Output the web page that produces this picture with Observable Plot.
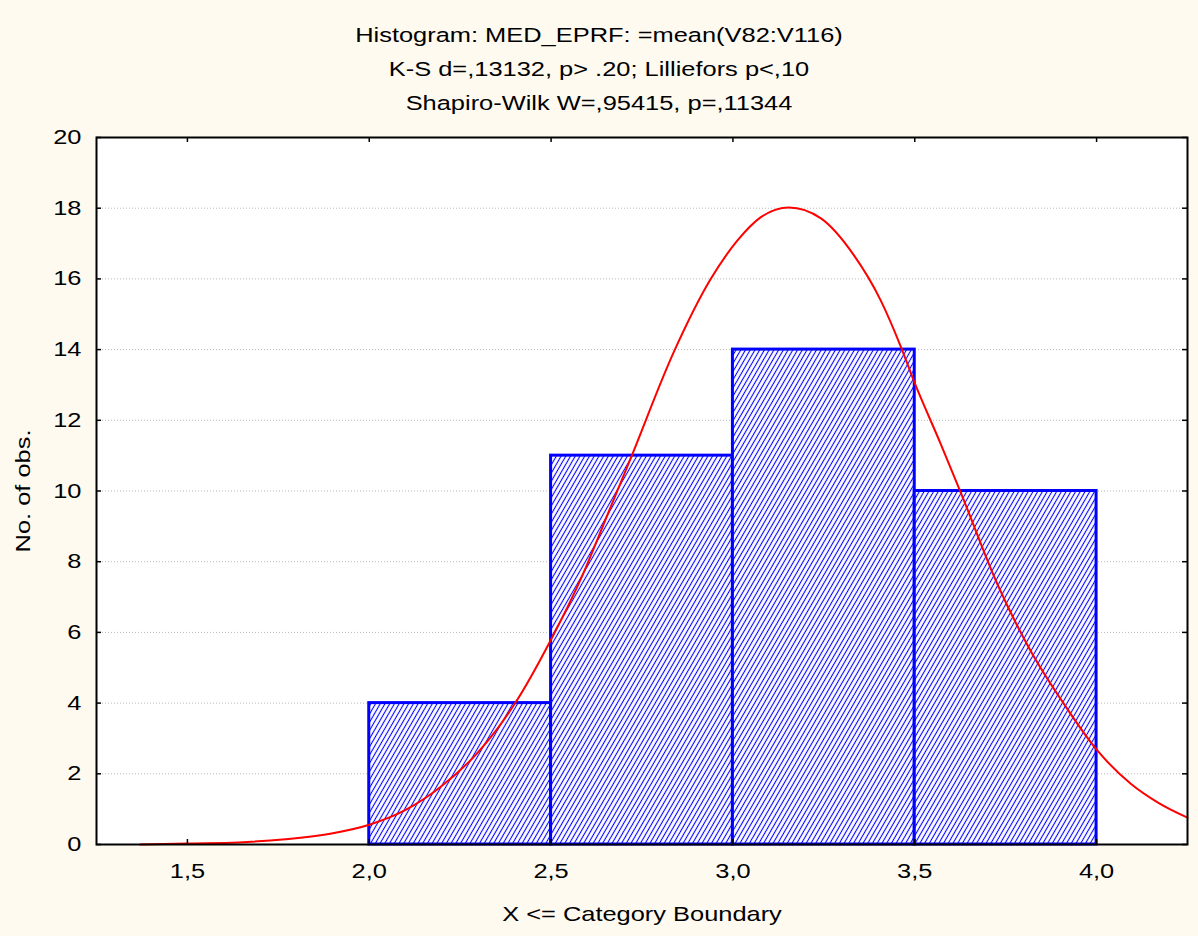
<!DOCTYPE html>
<html>
<head>
<meta charset="utf-8">
<script src="https://cdn.jsdelivr.net/npm/d3@7"></script>
<script src="https://cdn.jsdelivr.net/npm/@observablehq/plot@0.6"></script>
<style>
  html, body { margin: 0; padding: 0; background: #FFFAF0; overflow: hidden; }
  #titles { height: 120px; box-sizing: border-box; padding-top: 18px; font-family: "Liberation Sans", Arial, sans-serif; font-size: 20.5px; color: #000; }
  #titles div { text-align: center; line-height: 34px; transform: scaleX(1.24); }
  #chart svg { display: block; }
</style>
</head>
<body>
<div id="titles"></div>
<div id="chart"></div>
<script>
// ---- data ----
const titleLines = [
  "Histogram: MED_EPRF: =mean(V82:V116)",
  "K-S d=,13132, p> .20; Lilliefors p<,10",
  "Shapiro-Wilk W=,95415, p=,11344"
];
const xLabel = "X <= Category Boundary";
const yLabel = "No. of obs.";

const binStart = [2.0, 2.5, 3.0, 3.5];
const binEnd   = [2.5, 3.0, 3.5, 4.0];
const counts   = [4, 11, 14, 10];

// expected normal curve
const curveX = [1.37, 1.50, 1.64, 1.77, 1.90, 2.00, 2.10, 2.195, 2.30, 2.40, 2.50, 2.58, 2.654, 2.718, 2.837, 2.938, 3.012, 3.076, 3.154, 3.241, 3.332, 3.406, 3.461, 3.497, 3.571, 3.626, 3.727, 3.818, 3.910, 4.002, 4.094, 4.17, 4.25];
const curveY = [0.00, 0.03, 0.06, 0.15, 0.32, 0.56, 0.98, 1.62, 2.62, 3.98, 5.80, 7.47, 9.30, 10.90, 13.92, 15.98, 17.08, 17.74, 18.02, 17.72, 16.68, 15.40, 14.10, 13.13, 11.34, 9.97, 7.37, 5.49, 3.98, 2.66, 1.72, 1.18, 0.76];

const xTicks = [1.5, 2.0, 2.5, 3.0, 3.5, 4.0];
const yTicks = [0, 2, 4, 6, 8, 10, 12, 14, 16, 18, 20];
const xDomain = [1.25, 4.25];
const yDomain = [0, 20];

// ---- build ----
const bins = binStart.map((s, i) => ({x1: s, x2: binEnd[i], count: counts[i]}));
const curve = curveX.map((x, i) => ({x, y: curveY[i]}));
const fmt = d => d.toFixed(1).replace(".", ",");

const titles = document.getElementById("titles");
titleLines.forEach(t => { const d = document.createElement("div"); d.textContent = t; titles.appendChild(d); });

const W = 1198, H = 816, mT = 17, mB = 92, mL = 96, mR = 11;
const innerW = W - mL - mR, innerH = H - mT - mB;
const tickLen = 5;

const chart = Plot.plot({
  width: W, height: H,
  marginTop: mT, marginBottom: mB, marginLeft: mL, marginRight: mR,
  style: {background: "transparent", fontFamily: "Liberation Sans, Arial, sans-serif", fontSize: "20.5px", color: "#000"},
  x: {domain: xDomain},
  y: {domain: yDomain},
  marks: [
    Plot.frame({fill: "white"}),
    Plot.gridY(yTicks, {stroke: "#b8b8b8", strokeOpacity: 1, strokeDasharray: "1,2"}),
    Plot.rectY(bins, {x1: "x1", x2: "x2", y: "count", fill: "url(#hatch)", stroke: "#0000ff", strokeWidth: 3}),
    Plot.line(curve, {x: "x", y: "y", stroke: "#ff0000", strokeWidth: 2, curve: "monotone-x"}),
    Plot.frame({stroke: "#000", strokeWidth: 2}),
    Plot.tickX(xTicks, {x: d => d, stroke: "#000", strokeWidth: 1.5, insetTop: innerH - tickLen}),
    Plot.tickX(xTicks, {x: d => d, stroke: "#000", strokeWidth: 1.5, insetBottom: innerH - tickLen}),
    Plot.tickY(yTicks, {y: d => d, stroke: "#000", strokeWidth: 1.5, insetRight: innerW - tickLen}),
    Plot.tickY(yTicks, {y: d => d, stroke: "#000", strokeWidth: 1.5, insetLeft: innerW - tickLen}),
    Plot.axisX(xTicks, {tickSize: 0, tickPadding: 19, tickFormat: fmt, label: xLabel, labelAnchor: "center", labelArrow: "none", labelOffset: 76}),
    Plot.axisY(yTicks, {tickSize: 0, tickPadding: 15, tickFormat: d => String(d), label: yLabel, labelAnchor: "center", labelArrow: "none", labelOffset: 81})
  ]
});

// hatch pattern definition
const sel = d3.select(chart);
const defs = sel.insert("defs", ":first-child");
const s = 4.1;
const pat = defs.append("pattern").attr("id", "hatch").attr("patternUnits", "userSpaceOnUse")
  .attr("width", s).attr("height", s).attr("patternTransform", "rotate(30)");
pat.append("rect").attr("width", s).attr("height", s).attr("fill", "white");
pat.append("line").attr("x1", s / 2).attr("y1", -1).attr("x2", s / 2).attr("y2", s + 1)
  .attr("stroke", "#0000ff").attr("stroke-width", 1.1);

// wide glyphs as in the reference
sel.selectAll("text").each(function () {
  const t = this.getAttribute("transform");
  this.setAttribute("transform", (t ? t + " " : "") + "scale(1.24,1)");
});

document.getElementById("chart").appendChild(chart);
</script>
</body>
</html>
